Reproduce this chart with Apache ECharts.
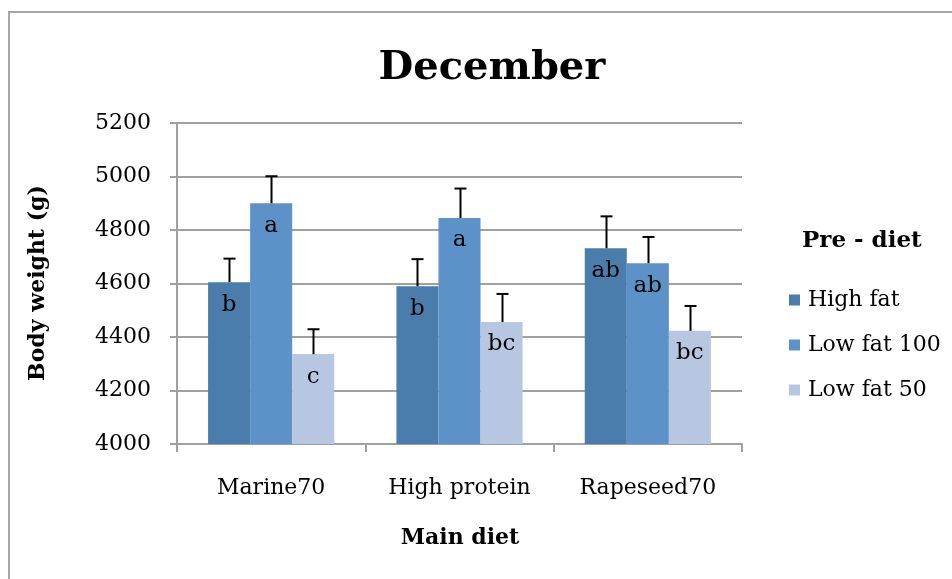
<!DOCTYPE html>
<html><head><meta charset="utf-8">
<script src="https://cdn.jsdelivr.net/npm/echarts@6/dist/echarts.min.js"></script>
<style>html,body{margin:0;padding:0;background:#fff}#c{width:952px;height:579px}</style>
</head><body><div id="c"></div>
<script>
const categories = ['Marine70', 'High protein', 'Rapeseed70'];
const seriesNames = ['High fat', 'Low fat 100', 'Low fat 50'];
const highFat = [4605, 4590, 4732];
const lowFat100 = [4900, 4845, 4676];
const lowFat50 = [4336, 4456, 4423];
const highFatErr = [4693, 4691, 4851];
const lowFat100Err = [5001, 4955, 4774];
const lowFat50Err = [4429, 4561, 4516];
const highFatLetters = ['b', 'b', 'ab'];
const lowFat100Letters = ['a', 'a', 'ab'];
const lowFat50Letters = ['c', 'bc', 'bc'];
const yTicks = [4000, 4200, 4400, 4600, 4800, 5000, 5200];

const FONT = 'DejaVu Serif';
const colors = ['#4a7dab', '#5c92c7', '#b8c7e1'];
const values = [highFat, lowFat100, lowFat50];
const errs = [highFatErr, lowFat100Err, lowFat50Err];
const letters = [highFatLetters, lowFat100Letters, lowFat50Letters];
const GAP = 0.33;

const series = [];
values.forEach((vals, i) => {
  series.push({
    name: seriesNames[i], type: 'bar', barGap: '0%', barCategoryGap: (GAP*100)+'%',
    itemStyle: { color: colors[i] },
    data: vals,
    label: {
      show: true, position: 'insideTop', distance: 11,
      fontFamily: FONT, fontSize: 23, color: '#000',
      formatter: p => letters[i][p.dataIndex]
    },
    z: 2
  });
});
values.forEach((vals, i) => {
  series.push({
    name: 'err' + i, type: 'custom',
    data: vals.map((v, k) => [k, v, errs[i][k]]),
    encode: { x: 0, y: [1, 2] },
    z: 5,
    renderItem: function (params, api) {
      const k = api.value(0);
      const band = api.size([1, 0])[0];
      const bw = band * (1 - GAP) / 3;
      const top = api.coord([k, api.value(2)]);
      const base = api.coord([k, api.value(1)]);
      const x = Math.round(top[0] + (i - 1) * bw) + 0.5;
      const st = { stroke: '#000', lineWidth: 2 };
      return {
        type: 'group', children: [
          { type: 'line', shape: { x1: x, y1: base[1], x2: x, y2: top[1] }, style: st },
          { type: 'line', shape: { x1: x - 6, y1: top[1], x2: x + 6, y2: top[1] }, style: st }
        ]
      };
    }
  });
});

const chart = echarts.init(document.getElementById('c'));
chart.setOption({
  animation: false,
  backgroundColor: '#fff',
  title: {
    text: 'December', left: 487, top: 44, textAlign: 'center',
    textStyle: { fontFamily: FONT, fontWeight: 'bold', fontSize: 40, color: '#000' }
  },
  legend: {
    data: seriesNames, orient: 'vertical', left: 784, top: 284,
    itemWidth: 11, itemHeight: 11, itemGap: 23, icon: 'rect',
    textStyle: { fontFamily: FONT, fontSize: 22, color: '#000', padding: [0, 0, 0, 3] }
  },
  grid: { left: 177, right: 210, top: 123, bottom: 135 },
  xAxis: {
    type: 'category', data: categories,
    axisLine: { lineStyle: { color: '#a0a0a0', width: 2 } },
    axisTick: { show: true, length: 8, lineStyle: { color: '#a0a0a0', width: 2 } },
    axisLabel: { fontFamily: FONT, fontSize: 22, color: '#000', margin: 33 },
  },
  yAxis: {
    type: 'value', min: yTicks[0], max: yTicks[yTicks.length - 1], interval: 200,
    axisLine: { show: true, lineStyle: { color: '#a0a0a0', width: 2 } },
    axisTick: { show: true, length: 7, lineStyle: { color: '#a0a0a0', width: 2 } },
    splitLine: { lineStyle: { color: '#a0a0a0', width: 2 } },
    axisLabel: { fontFamily: FONT, fontSize: 22, color: '#000', margin: 26, formatter: v => String(v) }
  },
  graphic: [
    { type: 'rect', shape: { x: 9, y: 12, width: 1000, height: 1000 }, style: { fill: 'none', stroke: '#a6a6a6', lineWidth: 2 } },
    { type: 'text', left: 802, top: 230, style: { text: 'Pre - diet', font: 'bold 23px "DejaVu Serif"', fill: '#000' } },
    { type: 'text', x: 460, y: 538, style: { text: 'Main diet', font: 'bold 22px "DejaVu Serif"', fill: '#000', align: 'center', verticalAlign: 'middle' } },
    { type: 'text', x: 38, y: 283, rotation: Math.PI / 2, style: { text: 'Body weight (g)', font: 'bold 22px "DejaVu Serif"', fill: '#000', align: 'center', verticalAlign: 'middle' } }
  ],
  series: series
});
</script>
</body></html>
